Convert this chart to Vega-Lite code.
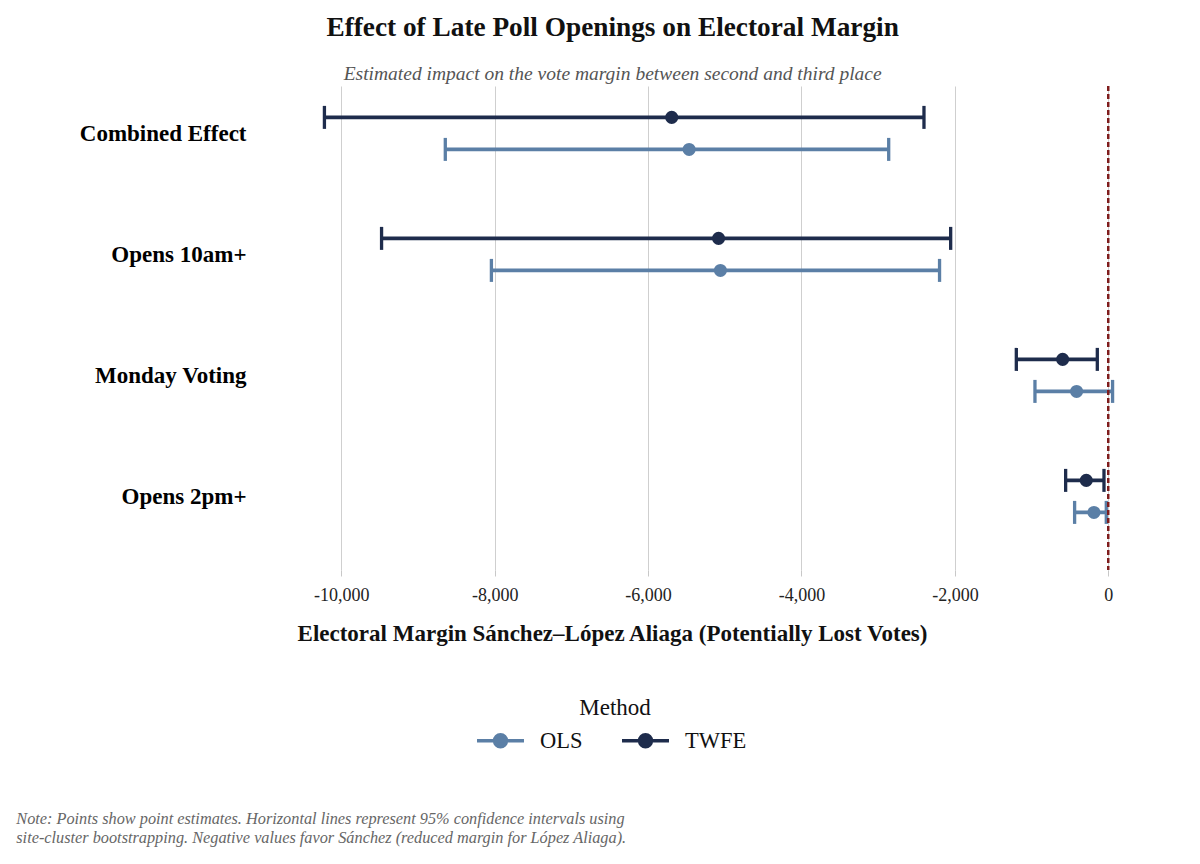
{
  "$schema": "https://vega.github.io/schema/vega-lite/v6.json",
  "background": "white",
  "padding": {"left": 16, "top": 14, "right": 10, "bottom": 10},
  "config": {
    "font": "Liberation Serif",
    "view": {"stroke": null}
  },
  "title": {
    "text": ["Note: Points show point estimates. Horizontal lines represent 95% confidence intervals using", "site-cluster bootstrapping. Negative values favor Sánchez (reduced margin for López Aliaga)."],
    "orient": "bottom",
    "anchor": "start",
    "frame": "bounds",
    "dx": -63,
    "offset": 57,
    "fontSize": 16.3,
    "fontStyle": "italic",
    "fontWeight": "normal",
    "color": "#666666",
    "lineHeight": 19
  },
  "vconcat": [
    {
      "title": {
        "text": "Effect of Late Poll Openings on Electoral Margin",
        "subtitle": "Estimated impact on the vote margin between second and third place",
        "anchor": "middle",
        "frame": "bounds",
        "dx": -3,
        "fontSize": 27.3,
        "fontWeight": "bold",
        "color": "#111111",
        "subtitleFontSize": 19.5,
        "subtitleFontStyle": "italic",
        "subtitleColor": "#555555",
        "subtitlePadding": 23,
        "offset": 2
      },
      "width": 867,
      "height": 484,
      "data": {
        "values": [
          {"Category": "Combined Effect", "Method": "TWFE", "est": -5692, "lo": -10220, "hi": -2403},
          {"Category": "Combined Effect", "Method": "OLS", "est": -5465, "lo": -8644, "hi": -2863},
          {"Category": "Opens 10am+", "Method": "TWFE", "est": -5081, "lo": -9475, "hi": -2055},
          {"Category": "Opens 10am+", "Method": "OLS", "est": -5057, "lo": -8043, "hi": -2200},
          {"Category": "Monday Voting", "Method": "TWFE", "est": -595, "lo": -1199, "hi": -143},
          {"Category": "Monday Voting", "Method": "OLS", "est": -413, "lo": -956, "hi": 56},
          {"Category": "Opens 2pm+", "Method": "TWFE", "est": -287, "lo": -556, "hi": -56},
          {"Category": "Opens 2pm+", "Method": "OLS", "est": -187, "lo": -439, "hi": -26}
        ]
      },
      "layer": [
        {
          "encoding": {
            "y": {
              "field": "Category",
              "type": "nominal",
              "sort": ["Combined Effect", "Opens 10am+", "Monday Voting", "Opens 2pm+"],
              "scale": {"paddingInner": 0, "paddingOuter": 0},
              "axis": {
                "title": null,
                "domain": false,
                "ticks": false,
                "grid": false,
                "labelFontSize": 23,
                "labelFontWeight": "bold",
                "labelColor": "#000000",
                "labelPadding": 39,
                "labelOffset": -13
              }
            },
            "yOffset": {
              "field": "Method",
              "type": "nominal",
              "sort": ["TWFE", "OLS"],
              "scale": {"paddingInner": 0, "paddingOuter": 0.89, "align": 0.27}
            },
            "color": {
              "field": "Method",
              "type": "nominal",
              "scale": {"domain": ["OLS", "TWFE"], "range": ["#5b7fa6", "#1e2c4c"]},
              "legend": {
                "orient": "none",
                "legendX": 198,
                "legendY": 611,
                "direction": "horizontal",
                "title": "Method",
                "titleAnchor": "middle",
                "titleFontSize": 23,
                "titleFontWeight": "normal",
                "titleColor": "#111111",
                "titlePadding": 3,
                "labelFontSize": 22.5,
                "labelColor": "#111111",
                "labelOffset": 22,
                "columnPadding": 32,
                "symbolType": "M-1.5,0L1.5,0M0.38,0A0.38,0.38,0,1,1,-0.38,0A0.38,0.38,0,1,1,0.38,0Z",
                "symbolSize": 980,
                "symbolStrokeWidth": 3.5,
                "symbolOpacity": 1,
                "encode": {
                  "symbols": {
                    "update": {
                      "fill": {"scale": "color", "field": "value"},
                      "stroke": {"scale": "color", "field": "value"},
                      "strokeWidth": {"value": 3.5}
                    }
                  }
                }
              }
            }
          },
          "layer": [
            {
              "mark": {"type": "rule", "strokeWidth": 3.6},
              "encoding": {
                "x": {
                  "field": "lo",
                  "type": "quantitative",
                  "scale": {"domain": [-10734, 570], "nice": false, "zero": false},
                  "axis": {
                    "title": "Electoral Margin Sánchez–López Aliaga (Potentially Lost Votes)",
                    "titleFontSize": 23,
                    "titleFontWeight": "bold",
                    "titleColor": "#111111",
                    "titleX": 327,
                    "titlePadding": 18,
                    "values": [-10000, -8000, -6000, -4000, -2000, 0],
                    "labelExpr": "replace(format(datum.value, ','), '\u2212', '-')",
                    "labelFontSize": 18,
                    "labelColor": "#222222",
                    "labelPadding": 10,
                    "domain": false,
                    "ticks": true,
                    "tickSize": 6,
                    "tickColor": "#c8c8c8",
                    "grid": true,
                    "gridColor": "#cfcfcf",
                    "gridWidth": 1
                  }
                },
                "x2": {"field": "hi"}
              }
            },
            {
              "mark": {"type": "tick", "thickness": 3.3, "size": 23, "opacity": 1},
              "encoding": {"x": {"field": "lo", "type": "quantitative"}}
            },
            {
              "mark": {"type": "tick", "thickness": 3.3, "size": 23, "opacity": 1},
              "encoding": {"x": {"field": "hi", "type": "quantitative"}}
            },
            {
              "mark": {"type": "point", "filled": true, "size": 170, "opacity": 1},
              "encoding": {"x": {"field": "est", "type": "quantitative"}}
            }
          ]
        },
        {
          "mark": {"type": "rule", "color": "#7f1d1d", "strokeWidth": 1.6, "strokeDash": [5, 3]},
          "encoding": {"x": {"datum": 0}}
        }
      ]
    }
  ]
}
